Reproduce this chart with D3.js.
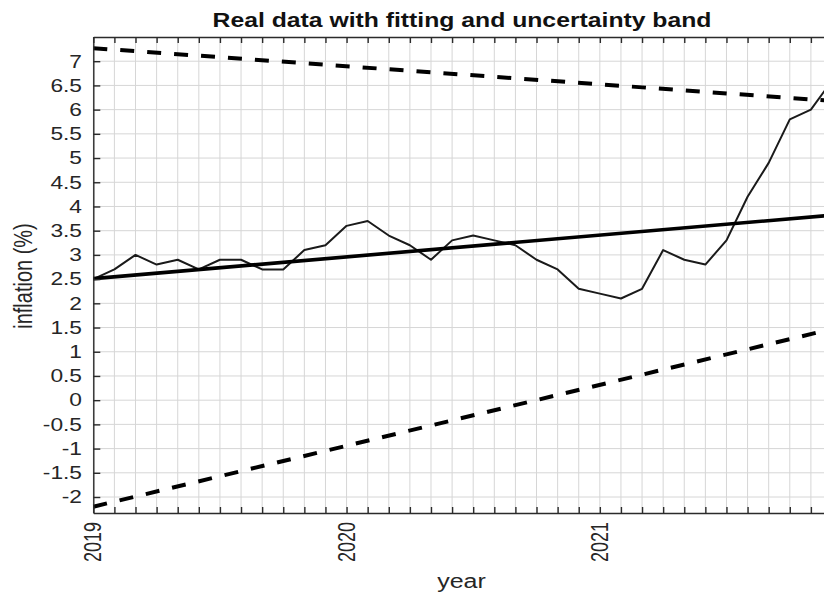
<!DOCTYPE html>
<html>
<head>
<meta charset="utf-8">
<script src="https://cdn.jsdelivr.net/npm/d3@7"></script>
<style>
  html, body { margin: 0; padding: 0; background: #fff; }
  svg { display: block; font-family: "Liberation Sans", Arial, Helvetica, sans-serif; }
</style>
</head>
<body>
<svg id="chart" width="824" height="596"></svg>
<script>
// Monthly inflation, Jan 2019 .. Dec 2021
const monthIndex = d3.range(36);
const inflation = [
  2.5, 2.7, 3.0, 2.8, 2.9, 2.7, 2.9, 2.9, 2.7, 2.7, 3.1, 3.2,
  3.6, 3.7, 3.4, 3.2, 2.9, 3.3, 3.4, 3.3, 3.2, 2.9, 2.7, 2.3,
  2.2, 2.1, 2.3, 3.1, 2.9, 2.8, 3.3, 4.2, 4.9, 5.8, 6.0, 6.6
];
// Linear fit and uncertainty band, given at the first and last month
const fitMonths = [0, 35];
const fitValues = [2.51, 3.82];
const bandUpper = [7.27, 6.18];
const bandLower = [-2.2, 1.47];

const yearTicks = [2019, 2020, 2021];
const yTicks = d3.range(-2, 7.01, 0.5);
const yDomain = [-2.33, 7.5];

const titleText = "Real data with fitting and uncertainty band";
const xLabel = "year";
const yLabel = "inflation (%)";

const svg = d3.select("#chart");
const plotLeft = 93.3, plotRight = 832, plotTop = 37, plotBottom = 513;
const sx = 1.3; // horizontal glyph stretch

const monthToYear = m => 2019 + m / 12;
const x = d3.scaleLinear().domain([2019, monthToYear(35)]).range([plotLeft, plotRight]);
const y = d3.scaleLinear().domain(yDomain).range([plotBottom, plotTop]);

const axisColor = "#2b2b2b";
const textColor = "#262626";
const gridColor = "#d6d6d6";

// grid
const grid = svg.append("g");
grid.selectAll("line.v").data(monthIndex).join("line").attr("class", "v")
  .attr("x1", d => x(monthToYear(d))).attr("x2", d => x(monthToYear(d)))
  .attr("y1", plotTop).attr("y2", plotBottom)
  .attr("stroke", gridColor).attr("stroke-width", 1);
grid.selectAll("line.h").data(yTicks).join("line").attr("class", "h")
  .attr("x1", plotLeft).attr("x2", plotRight)
  .attr("y1", d => y(d)).attr("y2", d => y(d))
  .attr("stroke", gridColor).attr("stroke-width", 1);

// series
const line = d3.line().x(d => x(monthToYear(d[0]))).y(d => y(d[1]));
const dataPts = monthIndex.map((m, i) => [m, inflation[i]]);
svg.append("path").datum(dataPts).attr("d", line)
  .attr("fill", "none").attr("stroke", "#1a1a1a").attr("stroke-width", 2)
  .attr("stroke-linejoin", "round");

svg.append("path").datum(fitMonths.map((m, i) => [m, fitValues[i]])).attr("d", line)
  .attr("fill", "none").attr("stroke", "#000").attr("stroke-width", 3.6);

[bandUpper, bandLower].forEach(b => {
  svg.append("path").datum(fitMonths.map((m, i) => [m, b[i]])).attr("d", line)
    .attr("fill", "none").attr("stroke", "#000").attr("stroke-width", 4)
    .attr("stroke-dasharray", "14,13");
});

// axes with inward ticks
const monthYears = monthIndex.map(monthToYear);
svg.append("g").attr("transform", `translate(0,${plotBottom})`)
  .call(d3.axisBottom(x).tickValues(monthYears).tickSize(-6).tickFormat("").tickSizeOuter(0))
  .call(g => g.selectAll("line, path").attr("stroke", axisColor).attr("stroke-width", 1.4));
svg.append("g").attr("transform", `translate(0,${plotTop})`)
  .call(d3.axisTop(x).tickValues(monthYears).tickSize(-6).tickFormat("").tickSizeOuter(0))
  .call(g => g.selectAll("line, path").attr("stroke", axisColor).attr("stroke-width", 1.4));
svg.append("g").attr("transform", `translate(${plotLeft},0)`)
  .call(d3.axisLeft(y).tickValues(yTicks).tickSize(-7).tickFormat("").tickSizeOuter(0))
  .call(g => g.selectAll("line, path").attr("stroke", axisColor).attr("stroke-width", 1.4));

// tick labels
svg.append("g").selectAll("text").data(yTicks).join("text")
  .attr("transform", d => `translate(82,${y(d) + 6.3}) scale(${sx},1)`)
  .attr("text-anchor", "end").attr("font-size", 17.5).attr("fill", textColor)
  .text(d => String(+d.toFixed(1)));

svg.append("g").selectAll("text").data(yearTicks).join("text")
  .attr("transform", d => `translate(${x(d) + 8},522) scale(${sx},1) rotate(-90)`)
  .attr("text-anchor", "end").attr("font-size", 18).attr("fill", textColor)
  .text(d => d);

// titles
svg.append("text")
  .attr("transform", `translate(462,27) scale(1.27,1)`)
  .attr("text-anchor", "middle").attr("font-size", 19.5).attr("font-weight", "bold")
  .attr("fill", "#111").text(titleText);

svg.append("text")
  .attr("transform", `translate(461.5,588) scale(1.25,1)`)
  .attr("text-anchor", "middle").attr("font-size", 20).attr("fill", textColor)
  .text(xLabel);

svg.append("text")
  .attr("transform", `translate(32,276) scale(1.25,1) rotate(-90)`)
  .attr("text-anchor", "middle").attr("font-size", 20).attr("fill", textColor)
  .text(yLabel);
</script>
</body>
</html>
